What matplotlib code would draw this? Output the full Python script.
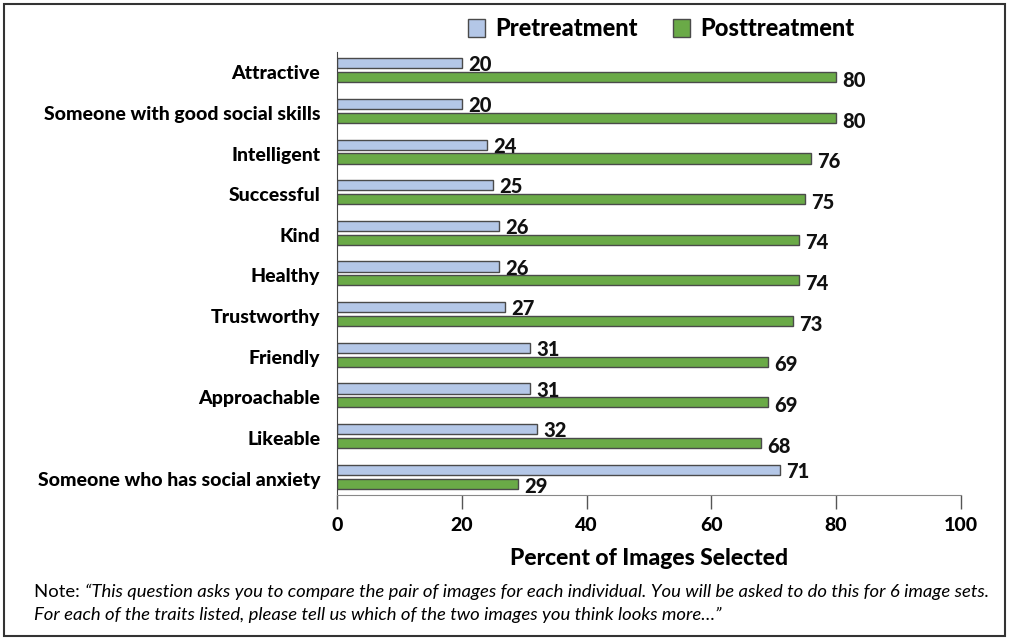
import matplotlib
matplotlib.use("Agg")
import matplotlib.pyplot as plt
from matplotlib.patches import Rectangle
import matplotlib.transforms as mtransforms
import numpy as np

plt.rcParams['font.family'] = ['Lato', 'DejaVu Sans']

traits = [
    "Attractive",
    "Someone with good social skills",
    "Intelligent",
    "Successful",
    "Kind",
    "Healthy",
    "Trustworthy",
    "Friendly",
    "Approachable",
    "Likeable",
    "Someone who has social anxiety",
]
pretreatment = [20, 20, 24, 25, 26, 26, 27, 31, 31, 32, 71]
posttreatment = [80, 80, 76, 75, 74, 74, 73, 69, 69, 68, 29]
x_ticks = [0, 20, 40, 60, 80, 100]

pre_color = "#B4C7E7"
post_color = "#6AAA47"
edge = "#4A4A4A"
W = 900  # heavy weight for the chart labels

fig = plt.figure(figsize=(10.09, 6.4), dpi=100)
ax = fig.add_axes([0.334, 0.2266, 0.6184, 0.6922])

y = np.arange(len(traits))
h = 0.25
off = 0.17
ax.barh(y - off, pretreatment, height=h, color=pre_color, edgecolor=edge,
        linewidth=1.0, label="Pretreatment")
ax.barh(y + off, posttreatment, height=h, color=post_color, edgecolor=edge,
        linewidth=1.0, label="Posttreatment")

for yi, v in zip(y, pretreatment):
    ax.text(v + 1.0, yi - off + 0.04, str(v), va="center", ha="left",
            fontsize=14.5, fontweight=W, color="#111111")
for yi, v in zip(y, posttreatment):
    ax.text(v + 1.0, yi + off + 0.08, str(v), va="center", ha="left",
            fontsize=14.5, fontweight=W, color="#111111")

ax.set_xlim(0, 100)
ax.set_ylim(len(traits) - 0.55, -0.45)
ax.set_yticks(y)
ax.set_yticklabels(traits, fontsize=14, fontweight=W)
ax.tick_params(axis="y", length=0, pad=12)
# nudge the category names down a little
shift = mtransforms.ScaledTranslation(0, -2 / 100, fig.dpi_scale_trans)
for lbl in ax.get_yticklabels():
    lbl.set_transform(lbl.get_transform() + shift)
ax.set_xticks(x_ticks)
ax.set_xticklabels([str(t) for t in x_ticks], fontsize=14, fontweight=W)
ax.tick_params(axis="x", direction="out", length=10, width=1, color="#555555", pad=6)

for s in ["top", "right"]:
    ax.spines[s].set_visible(False)
ax.spines["left"].set_color("#444444")
ax.spines["bottom"].set_color("#888888")

ax.set_xlabel("Percent of Images Selected", fontsize=16.5, fontweight=W, labelpad=10)

fig.legend(loc="center", bbox_to_anchor=(0.655, 0.955), ncol=2, frameon=False,
           handlelength=0.75, handleheight=0.75, columnspacing=1.5,
           handletextpad=0.4, prop={"size": 17, "weight": W})

# note under the chart: plain prefix, then quoted text in italics
fig.canvas.draw()
r = fig.canvas.get_renderer()
fs_note = 13.3
note = fig.text(34 / 1009, 1 - 592 / 640, "Note: ", fontsize=fs_note, va="center", ha="left")
w = note.get_window_extent(renderer=r).width
fig.text(34 / 1009 + w / 1009, 1 - 592 / 640,
         "\u201cThis question asks you to compare the pair of images for each individual. "
         "You will be asked to do this for 6 image sets.",
         fontsize=fs_note, style="italic", va="center", ha="left")
fig.text(34 / 1009, 1 - 615 / 640,
         "For each of the traits listed, please tell us which of the two images you think looks more\u2026\u201d",
         fontsize=fs_note, style="italic", va="center", ha="left")

fig.patches.append(Rectangle((4 / 1009, 4 / 640), 1001 / 1009, 632 / 640,
                             transform=fig.transFigure, fill=False,
                             edgecolor="#333333", linewidth=1.5))

fig.savefig("out.png", dpi=100)
